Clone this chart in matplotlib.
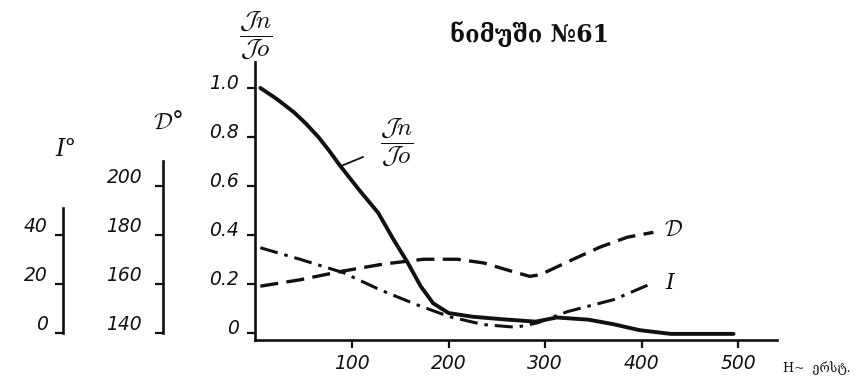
import matplotlib
matplotlib.use("Agg")
import matplotlib.pyplot as plt
from matplotlib.transforms import ScaledTranslation

# ---- data -------------------------------------------------------------
# field strength H (oersted) and the relative intensity Jn/Jo
jn_field = [5, 22, 40, 52, 65, 76, 88, 108, 127, 143, 157, 171, 184, 200,
            225, 255, 290, 312, 345, 370, 398, 430, 495]
jn_ratio = [1.00, 0.955, 0.90, 0.855, 0.80, 0.745, 0.68, 0.58, 0.49, 0.38,
            0.29, 0.19, 0.12, 0.08, 0.065, 0.055, 0.045, 0.062, 0.053,
            0.035, 0.010, -0.005, -0.005]

# declination D (degrees)
decl_field = [5, 46, 88, 132, 174, 209, 236, 260, 284, 295, 329, 357, 385, 412]
decl_deg = [159, 161.6, 165, 168, 170, 170, 168.5, 165.7, 163, 163.7,
            170, 175, 179, 181]

# inclination I (degrees)
incl_field = [5, 46, 91, 129, 167, 201, 236, 270, 292, 323, 371, 412]
incl_deg = [34.7, 30, 24.5, 17.5, 11.4, 6.5, 3.3, 2.2, 4.0, 8.6, 13.5, 20.4]

x_ticks = [100, 200, 300, 400, 500]
ratio_ticks = [0, 0.2, 0.4, 0.6, 0.8, 1.0]
ratio_labels = ["0", "0.2", "0.4", "0.6", "0.8", "1.0"]
decl_ticks = [140, 160, 180, 200]
incl_ticks = [0, 20, 40]

# the D and I scales share the ratio axis: 0 -> 140 deg / 0 deg, 1.0 -> +100 deg
DECL_ZERO, DECL_SPAN = 140.0, 100.0
INCL_ZERO, INCL_SPAN = 0.0, 100.0

# ---- figure -----------------------------------------------------------
W, H = 866, 383
fig = plt.figure(figsize=(W / 100, H / 100), dpi=100)
plt.rcParams["lines.scale_dashes"] = False
plt.rcParams["mathtext.fontset"] = "cm"

def fx(px):
    return px / W

def fy(py):
    return 1 - py / H

hand = dict(family="DejaVu Sans", style="oblique")
ink = "#111111"

left, right, top, bottom = 255.5, 777, 62, 340
rect = [fx(left), fy(bottom), (right - left) / W, (bottom - top) / H]
ax = fig.add_axes(rect)
ylo, yhi = -0.03, 1.106
ax.set_xlim(0, 540)
ax.set_ylim(ylo, yhi)
for s in ("top", "right"):
    ax.spines[s].set_visible(False)
for s in ("left", "bottom"):
    ax.spines[s].set_linewidth(1.9)
    ax.spines[s].set_color(ink)
ax.set_xticks(x_ticks)
ax.set_xticklabels([str(v) for v in x_ticks], fontsize=13.5, **hand)
ax.set_yticks(ratio_ticks)
ax.set_yticklabels(ratio_labels, fontsize=13.5, **hand)
ax.tick_params(axis="both", direction="out", length=6, width=1.6, colors=ink)
ax.tick_params(axis="y", pad=6)
ax.tick_params(axis="x", pad=4)
ax.yaxis.get_major_ticks()[0].tick1line.set_visible(False)
lift = ScaledTranslation(0, 0.06, fig.dpi_scale_trans)
for lab in ax.get_yticklabels():
    lab.set_transform(lab.get_transform() + lift)

ax.plot(jn_field, jn_ratio, color=ink, lw=2.8, solid_capstyle="round",
        solid_joinstyle="round", zorder=3)

# overlay axes carrying the angle curves on their own scales
def overlay(zero, span):
    a = ax.twinx()
    a.set_ylim(zero + span * ylo, zero + span * yhi)
    a.axis("off")
    return a

ax_d = overlay(DECL_ZERO, DECL_SPAN)
ax_d.plot(decl_field, decl_deg, color=ink, lw=2.4, dashes=(13, 6),
          dash_capstyle="butt")
ax_i = overlay(INCL_ZERO, INCL_SPAN)
ax_i.plot(incl_field, incl_deg, color=ink, lw=2.2, dashes=(13, 5, 2.5, 5),
          dash_capstyle="butt")

# separate scale bars for D and I
def scale_bar(xpx, zero, span, ticks, top_val, pad):
    a = fig.add_axes([fx(xpx), fy(bottom), 0.01, (bottom - top) / H])
    a.set_ylim(zero + span * ylo, zero + span * yhi)
    a.patch.set_visible(False)
    for s in ("top", "right", "bottom"):
        a.spines[s].set_visible(False)
    a.spines["left"].set_linewidth(1.9)
    a.spines["left"].set_color(ink)
    a.spines["left"].set_bounds(ticks[0], top_val)
    a.set_xticks([])
    a.set_yticks(ticks)
    a.set_yticklabels([str(t) for t in ticks], fontsize=13.5, **hand)
    a.tick_params(axis="y", direction="out", length=6, width=1.6,
                  colors=ink, pad=pad)
    up = ScaledTranslation(0, 0.1, fig.dpi_scale_trans)
    for lab in a.get_yticklabels():
        lab.set_transform(lab.get_transform() + up)
    return a

scale_bar(163, DECL_ZERO, DECL_SPAN, decl_ticks, 210, 9)
scale_bar(63, INCL_ZERO, INCL_SPAN, incl_ticks, 51, 5)

# ---- text ---------------------------------------------------------------
frac = r"$\dfrac{\mathcal{J}n}{\mathcal{J}o}$"
fig.text(fx(256), fy(36), frac, fontsize=18, ha="center", va="center", color=ink)
ax.annotate(frac, xy=(88, 0.68), xytext=(fx(397), fy(143)),
            textcoords="figure fraction", fontsize=18, ha="center",
            va="center", color=ink,
            arrowprops=dict(arrowstyle="-", color=ink, lw=1.3,
                            shrinkA=11, shrinkB=0))

fig.text(fx(168), fy(122), r"$\mathcal{D}$°", fontsize=17, ha="center",
         va="center", color=ink)
fig.text(fx(66), fy(150), "I°", fontsize=17, ha="center", va="center",
         color=ink, family="DejaVu Serif", style="italic")
fig.text(fx(674), fy(230), r"$\mathcal{D}$", fontsize=16, ha="center",
         va="center", color=ink)
fig.text(fx(670), fy(283), "I", fontsize=16, ha="center", va="center",
         color=ink, family="DejaVu Serif", style="italic")

fig.text(fx(530), fy(35), "ნიმუში №61", fontsize=17, fontweight="bold",
         family=["DejaVu Serif", "DejaVu Sans"], ha="center", va="center",
         color=ink)
fig.text(fx(783), fy(368), "H~  ერსტ.", fontsize=9,
         family=["DejaVu Serif", "DejaVu Sans"], ha="left", va="center",
         color=ink)

fig.savefig("out.png", dpi=100)
